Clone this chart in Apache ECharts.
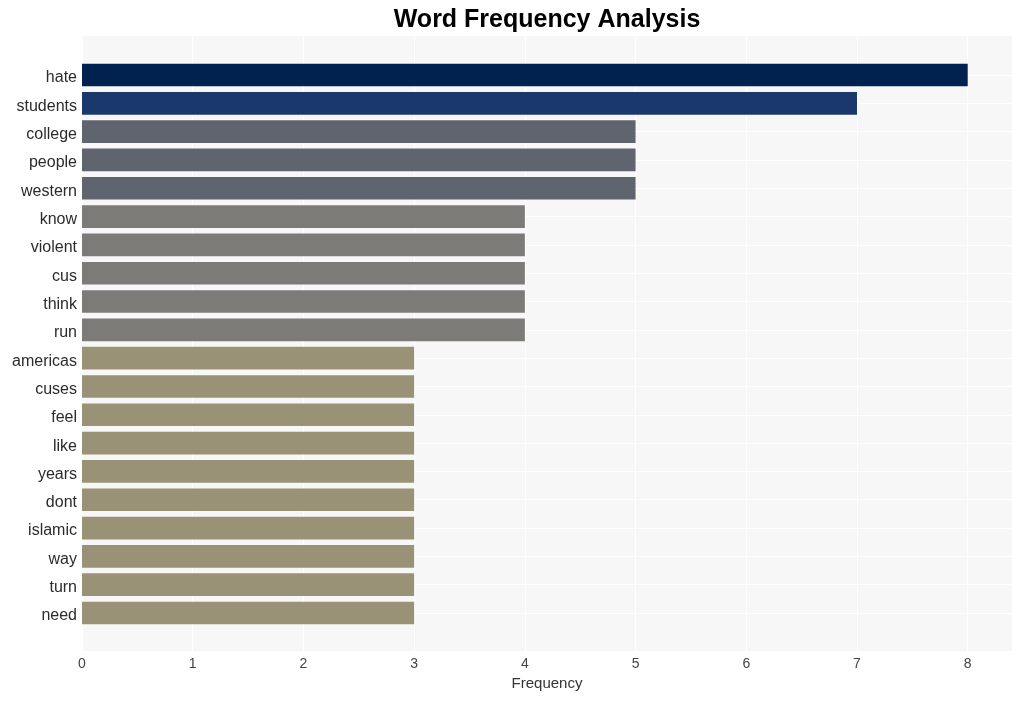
<!DOCTYPE html>
<html>
<head>
<meta charset="utf-8">
<script src="https://cdn.jsdelivr.net/npm/echarts@6/dist/echarts.min.js"></script>
<style>html,body{margin:0;padding:0;background:#fff}#c{width:1022px;height:701px}</style>
</head>
<body>
<div id="c"></div>
<script>
const categories = ["hate","students","college","people","western","know","violent","cus","think","run","americas","cuses","feel","like","years","dont","islamic","way","turn","need"];
const frequencies = [8,7,5,5,5,4,4,4,4,4,3,3,3,3,3,3,3,3,3,3];
const xTicks = [0,1,2,3,4,5,6,7,8];
const tierColors = {8:"#012150",7:"#1b386d",5:"#60646f",4:"#7c7b78",3:"#9a9277"};

const chart = echarts.init(document.getElementById('c'), null, {renderer:'canvas'});
const font = "Liberation Sans, Arial, Helvetica, sans-serif";
chart.setOption({
  animation:false,
  textStyle:{fontFamily:font},
  graphic:[{type:'text', x:547, y:20, style:{text:'Word Frequency Analysis', fontSize:25, fontWeight:'bold', fill:'#000', fontFamily:font, align:'center', verticalAlign:'middle'}}],
  grid:[
    {left:82, right:10, top:36, bottom:50, show:true, backgroundColor:'#f7f7f7', borderWidth:0},
    {left:82, right:10, top:75, bottom:88, show:false}
  ],
  xAxis:[
    {gridIndex:0, type:'value', min:0, max:8.4, interval:1,
     axisLine:{show:false}, axisTick:{show:false},
     axisLabel:{color:'#444', fontSize:14, margin:6, showMaxLabel:false,
       formatter:v=> xTicks.includes(v) ? String(v) : ''},
     splitLine:{show:true, lineStyle:{color:'#ffffff', width:1}},
     name:'Frequency', nameLocation:'middle', nameGap:25, nameTextStyle:{color:'#333', fontSize:15}},
    {gridIndex:1, type:'value', min:0, max:8.4, show:false, splitLine:{show:false}}
  ],
  yAxis:[
    {gridIndex:0, type:'value', show:false, splitLine:{show:false}},
    {gridIndex:1, type:'category', data:categories, inverse:true, boundaryGap:false,
     axisLine:{show:false}, axisTick:{show:false},
     axisLabel:{margin:5, interval:0,
       formatter:v=>'{a|'+v+'}',
       rich:{a:{color:'#2b2b2b', fontSize:16, fontFamily:font, padding:[6,0,0,0]}}},
     splitLine:{show:true, interval:0, lineStyle:{color:'#ffffff', width:1}}}
  ],
  series:[{
    type:'bar', xAxisIndex:1, yAxisIndex:1, barWidth:'80%',
    itemStyle:{borderWidth:0},
    data: frequencies.map(v=>({value:v, itemStyle:{color:tierColors[v], borderWidth:0}}))
  }]
});
</script>
</body>
</html>
